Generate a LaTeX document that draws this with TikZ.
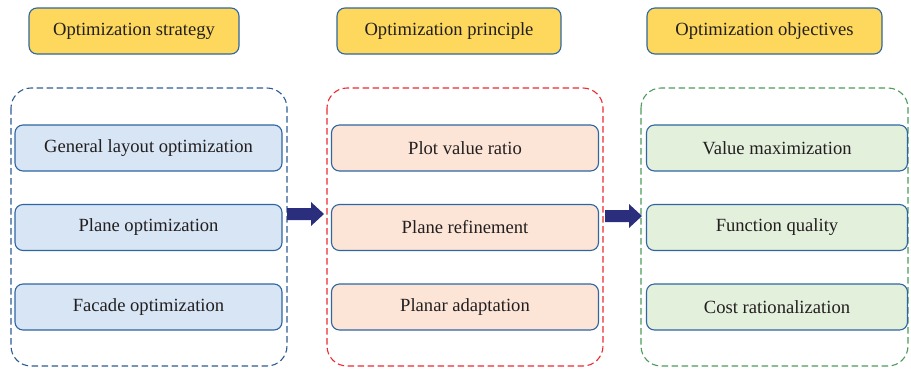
\documentclass[tikz,border=0pt]{standalone}
\usepackage{fontspec}
\setmainfont{Liberation Serif}
\definecolor{ybox}{HTML}{FDD85C}
\definecolor{bfill}{HTML}{D7E5F4}
\definecolor{ofill}{HTML}{FCE5D7}
\definecolor{gfill}{HTML}{E3F0DC}
\definecolor{edge}{HTML}{2F65A0}
\definecolor{dblue}{HTML}{2C5C94}
\definecolor{dred}{HTML}{EC2A30}
\definecolor{dgreen}{HTML}{4E9B5C}
\definecolor{arr}{HTML}{2B2E7C}
\definecolor{txt}{HTML}{231F20}
\begin{document}
\begin{tikzpicture}[x=1pt,y=-1pt,
  title/.style={draw=edge,line width=1.1pt,fill=ybox,rounded corners=8pt,minimum height=46pt,inner sep=0pt,text=txt,font=\fontsize{18.6}{21}\selectfont},
  item/.style={draw=edge,line width=1.1pt,rounded corners=8pt,minimum height=46pt,inner sep=0pt,text=txt,font=\fontsize{18.6}{21}\selectfont},
  cont/.style={dash pattern=on 6.5pt off 3.5pt,line width=1.1pt,rounded corners=20pt},
  bigarrow/.style={fill=arr,draw=none}]
\useasboundingbox (0,0) rectangle (911,368);
% titles
\node[title,minimum width=210pt] (t1) at (134,31) {Optimization strategy};
\node[title,minimum width=224pt] (t2) at (449,31) {Optimization principle};
\node[title,minimum width=235pt] (t3) at (764.5,31) {Optimization objectives};
% containers
\draw[cont,draw=dblue] (11,88) rectangle (287,366);
\draw[cont,draw=dred] (327,88) rectangle (603,366);
\draw[cont,draw=dgreen] (641,88) rectangle (908,366);
% column 1
\node[item,fill=bfill,minimum width=267pt] (a1) at (148.5,148) {General layout optimization};
\node[item,fill=bfill,minimum width=267pt] (a2) at (148.5,227.5) {Plane optimization};
\node[item,fill=bfill,minimum width=267pt] (a3) at (148.5,307) {Facade optimization};
% column 2
\node[item,fill=ofill,minimum width=267pt] (b1) at (465,148) {Plot value ratio};
\node[item,fill=ofill,minimum width=267pt] (b2) at (465,227.5) {Plane refinement};
\node[item,fill=ofill,minimum width=267pt] (b3) at (465,307) {Planar adaptation};
% column 3
\node[item,fill=gfill,minimum width=261pt] (c1) at (777,148) {Value maximization};
\node[item,fill=gfill,minimum width=261pt] (c2) at (777,227.5) {Function quality};
\node[item,fill=gfill,minimum width=261pt] (c3) at (777,307) {Cost rationalization};
% arrows
\coordinate (p1) at (287,214);
\coordinate (p2) at (605,216);
\fill[bigarrow] (p1) ++(0,-6) -- ++(24,0) -- ++(0,-6) -- ++(13,12) -- ++(-13,12) -- ++(0,-6) -- ++(-24,0) -- cycle;
\fill[bigarrow] (p2) ++(0,-6) -- ++(24,0) -- ++(0,-6) -- ++(13,12) -- ++(-13,12) -- ++(0,-6) -- ++(-24,0) -- cycle;
\end{tikzpicture}
\end{document}
